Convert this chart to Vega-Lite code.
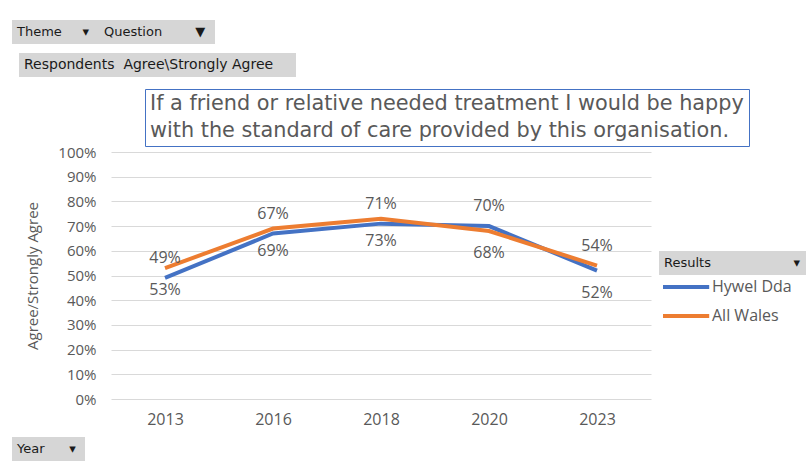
{
  "$schema": "https://vega.github.io/schema/vega-lite/v6.json",
  "width": 540,
  "height": 247,
  "autosize": {"type": "none"},
  "padding": {"left": 111, "top": 152, "right": 158, "bottom": 68},
  "background": "white",
  "config": {
    "view": {"stroke": null},
    "font": "Open Sans",
    "axisY": {"domain": false, "ticks": false, "labelPadding": 15, "labelFontSize": 15, "labelColor": "#595959", "titleFontSize": 15, "titleFontWeight": "normal", "titleColor": "#595959", "titlePadding": 17, "gridColor": "#d9d9d9", "gridWidth": 1},
    "axisX": {"domain": false, "ticks": false, "grid": false, "labelAngle": 0, "labelPadding": 12, "labelFontSize": 16, "labelColor": "#595959"},
    "legend": {"padding": 0}
  },
  "datasets": {
    "results": [
      {"Year": "2013", "Series": "Hywel Dda", "Value": 0.49},
      {"Year": "2016", "Series": "Hywel Dda", "Value": 0.67},
      {"Year": "2018", "Series": "Hywel Dda", "Value": 0.71},
      {"Year": "2020", "Series": "Hywel Dda", "Value": 0.70},
      {"Year": "2023", "Series": "Hywel Dda", "Value": 0.52},
      {"Year": "2013", "Series": "All Wales", "Value": 0.53},
      {"Year": "2016", "Series": "All Wales", "Value": 0.69},
      {"Year": "2018", "Series": "All Wales", "Value": 0.73},
      {"Year": "2020", "Series": "All Wales", "Value": 0.68},
      {"Year": "2023", "Series": "All Wales", "Value": 0.54}
    ]
  },
  "resolve": {"scale": {"color": "independent"}, "legend": {"color": "independent"}},
  "layer": [
    {
      "data": {"name": "results"},
      "mark": {"type": "line", "strokeWidth": 4},
      "encoding": {
        "x": {"field": "Year", "type": "ordinal", "scale": {"type": "point", "padding": 0.5}, "axis": {"title": null}},
        "y": {"field": "Value", "type": "quantitative", "scale": {"domain": [0, 1]}, "axis": {"title": "Agree/Strongly Agree", "format": ".0%", "values": [0, 0.1, 0.2, 0.3, 0.4, 0.5, 0.6, 0.7, 0.8, 0.9, 1]}},
        "color": {
          "field": "Series", "type": "nominal",
          "scale": {"domain": ["Hywel Dda", "All Wales"], "range": ["#4472c4", "#ed7d31"]},
          "legend": {"title": null, "orient": "none", "legendX": 550, "legendY": 126, "symbolType": "M-1,0H5.6", "symbolSize": 196, "symbolStrokeWidth": 4, "labelOffset": 33, "rowPadding": 12, "labelFontSize": 16, "labelColor": "#595959", "labelFont": "Open Sans"}
        }
      }
    },
    {
      "data": {"name": "results"},
      "transform": [{"filter": "(datum.Series === 'Hywel Dda' && datum.Year !== '2023') || (datum.Series === 'All Wales' && datum.Year === '2023')"}],
      "mark": {"type": "text", "dy": -20, "fontSize": 16, "color": "#595959"},
      "encoding": {
        "x": {"field": "Year", "type": "ordinal", "axis": {"title": null}},
        "y": {"field": "Value", "type": "quantitative", "axis": {"title": "Agree/Strongly Agree", "format": ".0%", "values": [0, 0.1, 0.2, 0.3, 0.4, 0.5, 0.6, 0.7, 0.8, 0.9, 1]}},
        "text": {"field": "Value", "type": "quantitative", "format": ".0%"}
      }
    },
    {
      "data": {"name": "results"},
      "transform": [{"filter": "!((datum.Series === 'Hywel Dda' && datum.Year !== '2023') || (datum.Series === 'All Wales' && datum.Year === '2023'))"}],
      "mark": {"type": "text", "dy": 22, "fontSize": 16, "color": "#595959"},
      "encoding": {
        "x": {"field": "Year", "type": "ordinal", "axis": {"title": null}},
        "y": {"field": "Value", "type": "quantitative", "axis": {"title": "Agree/Strongly Agree", "format": ".0%", "values": [0, 0.1, 0.2, 0.3, 0.4, 0.5, 0.6, 0.7, 0.8, 0.9, 1]}},
        "text": {"field": "Value", "type": "quantitative", "format": ".0%"}
      }
    },
    {
      "data": {"values": [{"q": "If a friend or relative needed treatment I would be happy"}, {"q": "with the standard of care provided by this organisation."}]},
      "mark": {"type": "point", "opacity": 0},
      "encoding": {"color": {"field": "q", "type": "nominal", "sort": null, "legend": {"title": null, "orient": "none", "legendX": 34, "legendY": -63, "fillColor": "white", "strokeColor": "#4472c4", "padding": 5, "symbolOpacity": 0, "symbolSize": 0, "symbolStrokeWidth": 0, "labelOffset": -20.8, "labelLimit": 0, "rowPadding": 4.2, "labelFontSize": 20.8, "labelColor": "#595959", "labelFont": "DejaVu Sans"}}}
    },
    {
      "data": {"values": [{"b": "Theme\u00a0\u00a0\u00a0\u00a0\u00a0\u25BE\u00a0\u200B"}]},
      "mark": {"type": "point", "opacity": 0},
      "encoding": {"color": {"field": "b", "type": "nominal", "legend": {"title": null, "orient": "none", "legendX": -99, "legendY": -132, "fillColor": "#d6d6d6", "padding": 5, "symbolOpacity": 0, "symbolSize": 0, "symbolStrokeWidth": 0, "labelOffset": -13, "labelLimit": 0, "labelFontSize": 13, "labelColor": "#1a1a1a", "labelFont": "DejaVu Sans"}}}
    },
    {
      "data": {"values": [{"b": "Question\u00a0\u00a0\u00a0\u00a0\u00a0\u00a0\u00a0\u00a0\u25BC\u00a0\u200B"}]},
      "mark": {"type": "point", "opacity": 0},
      "encoding": {"color": {"field": "b", "type": "nominal", "legend": {"title": null, "orient": "none", "legendX": -12, "legendY": -132, "fillColor": "#d6d6d6", "padding": 5, "symbolOpacity": 0, "symbolSize": 0, "symbolStrokeWidth": 0, "labelOffset": -13, "labelLimit": 0, "labelFontSize": 13, "labelColor": "#1a1a1a", "labelFont": "DejaVu Sans"}}}
    },
    {
      "data": {"values": [{"b": "Respondents\u00a0 Agree\\Strongly Agree\u00a0\u00a0\u00a0\u00a0\u200B"}]},
      "mark": {"type": "point", "opacity": 0},
      "encoding": {"color": {"field": "b", "type": "nominal", "legend": {"title": null, "orient": "none", "legendX": -92, "legendY": -99, "fillColor": "#d6d6d6", "padding": 5, "symbolOpacity": 0, "symbolSize": 0, "symbolStrokeWidth": 0, "labelOffset": -14, "labelLimit": 0, "labelFontSize": 14, "labelColor": "#1a1a1a", "labelFont": "DejaVu Sans"}}}
    },
    {
      "data": {"values": [{"b": "Results\u00a0\u00a0\u00a0\u00a0\u00a0\u00a0\u00a0\u00a0\u00a0\u00a0\u00a0\u00a0\u00a0\u00a0\u00a0\u00a0\u00a0\u00a0\u00a0\u00a0\u25BE"}]},
      "mark": {"type": "point", "opacity": 0},
      "encoding": {"color": {"field": "b", "type": "nominal", "legend": {"title": null, "orient": "none", "legendX": 548, "legendY": 99, "fillColor": "#d6d6d6", "padding": 5, "symbolOpacity": 0, "symbolSize": 0, "symbolStrokeWidth": 0, "labelOffset": -13, "labelLimit": 0, "labelFontSize": 13, "labelColor": "#1a1a1a", "labelFont": "DejaVu Sans"}}}
    },
    {
      "data": {"values": [{"b": "Year\u00a0\u00a0\u00a0\u00a0\u00a0\u00a0\u25BE\u00a0\u200B"}]},
      "mark": {"type": "point", "opacity": 0},
      "encoding": {"color": {"field": "b", "type": "nominal", "legend": {"title": null, "orient": "none", "legendX": -99, "legendY": 285, "fillColor": "#d6d6d6", "padding": 5, "symbolOpacity": 0, "symbolSize": 0, "symbolStrokeWidth": 0, "labelOffset": -13, "labelLimit": 0, "labelFontSize": 13, "labelColor": "#1a1a1a", "labelFont": "DejaVu Sans"}}}
    }
  ]
}
